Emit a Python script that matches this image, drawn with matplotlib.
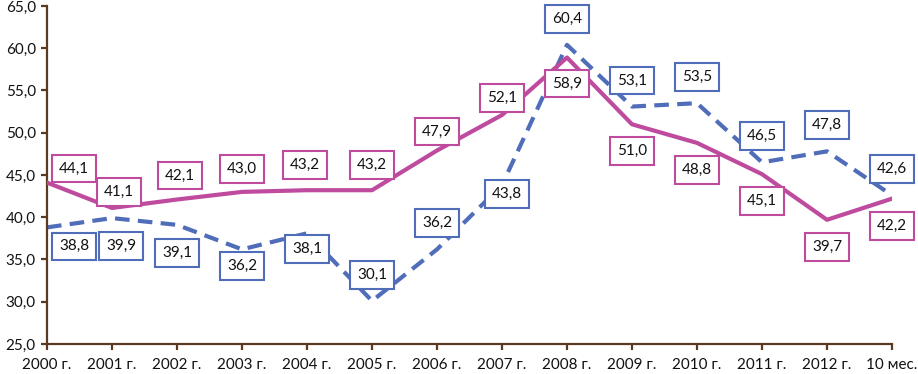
import matplotlib
matplotlib.use("Agg")
import matplotlib.pyplot as plt

categories = ["2000 г.", "2001 г.", "2002 г.", "2003 г.", "2004 г.", "2005 г.", "2006 г.",
              "2007 г.", "2008 г.", "2009 г.", "2010 г.", "2011 г.", "2012 г.", "10 мес."]
series_magenta = [44.1, 41.1, 42.1, 43.0, 43.2, 43.2, 47.9, 52.1, 58.9, 51.0, 48.8, 45.1, 39.7, 42.2]
series_blue = [38.8, 39.9, 39.1, 36.2, 38.1, 30.1, 36.2, 43.8, 60.4, 53.1, 53.5, 46.5, 47.8, 42.6]
y_ticks = [25, 30, 35, 40, 45, 50, 55, 60, 65]

# label offsets in pixels (dx, dy)
off_magenta = [(27, 14), (7, 16), (3, 24), (0, 23), (-2, 25), (0, 25), (0, 19),
               (0, 17), (0, -26), (0, -27), (0, -27), (0, -27), (0, -27), (0, -27)]
off_blue = [(27, -19), (9, -28), (0, -28), (0, -17), (0, -16), (0, 26), (0, 26),
            (5, -9), (0, 26), (0, 26), (0, 26), (0, 26), (0, 26), (0, 26)]

MAG = "#BE4B9E"
BLUE = "#4F6DB8"
AXC = "#5C3A21"

plt.rcParams['font.family'] = ['Lato', 'DejaVu Sans']

fig = plt.figure(figsize=(9.18, 3.74), dpi=100)
ax = fig.add_axes([47 / 918, 1 - 344 / 374, (892 - 47) / 918, (344 - 6) / 374])

x = list(range(len(categories)))
ax.plot(x, series_blue, color=BLUE, lw=3.0, ls=(0, (3.5, 2.0)), zorder=2, solid_capstyle='butt')
ax.plot(x, series_magenta, color=MAG, lw=3.0, zorder=3)

for i, v in enumerate(series_magenta):
    dx, dy = off_magenta[i]
    ax.annotate(f"{v:.1f}".replace(".", ","), xy=(i, v), xytext=(dx, dy),
                textcoords='offset pixels', ha='center', va='center', fontsize=11,
                color='#111111', zorder=5, annotation_clip=False,
                bbox=dict(boxstyle='square,pad=0.45', fc='white', ec=MAG, lw=1.5))
for i, v in enumerate(series_blue):
    dx, dy = off_blue[i]
    ax.annotate(f"{v:.1f}".replace(".", ","), xy=(i, v), xytext=(dx, dy),
                textcoords='offset pixels', ha='center', va='center', fontsize=11,
                color='#111111', zorder=5, annotation_clip=False,
                bbox=dict(boxstyle='square,pad=0.45', fc='white', ec=BLUE, lw=1.5))

ax.set_xlim(0, len(categories) - 1)
ax.set_ylim(25, 65)
ax.set_xticks(x)
ax.set_xticklabels(categories)
ax.set_yticks(y_ticks)
ax.set_yticklabels([f"{t:.1f}".replace(".", ",") for t in y_ticks])
for s in ['top', 'right']:
    ax.spines[s].set_visible(False)
for s in ['left', 'bottom']:
    ax.spines[s].set_color(AXC)
    ax.spines[s].set_linewidth(1.6)
ax.tick_params(axis='both', colors=AXC, width=1.6, length=4, labelsize=11, labelcolor='#111111')
ax.tick_params(axis='x', pad=6)
ax.tick_params(axis='y', pad=4)

fig.savefig("out.png", dpi=100)
